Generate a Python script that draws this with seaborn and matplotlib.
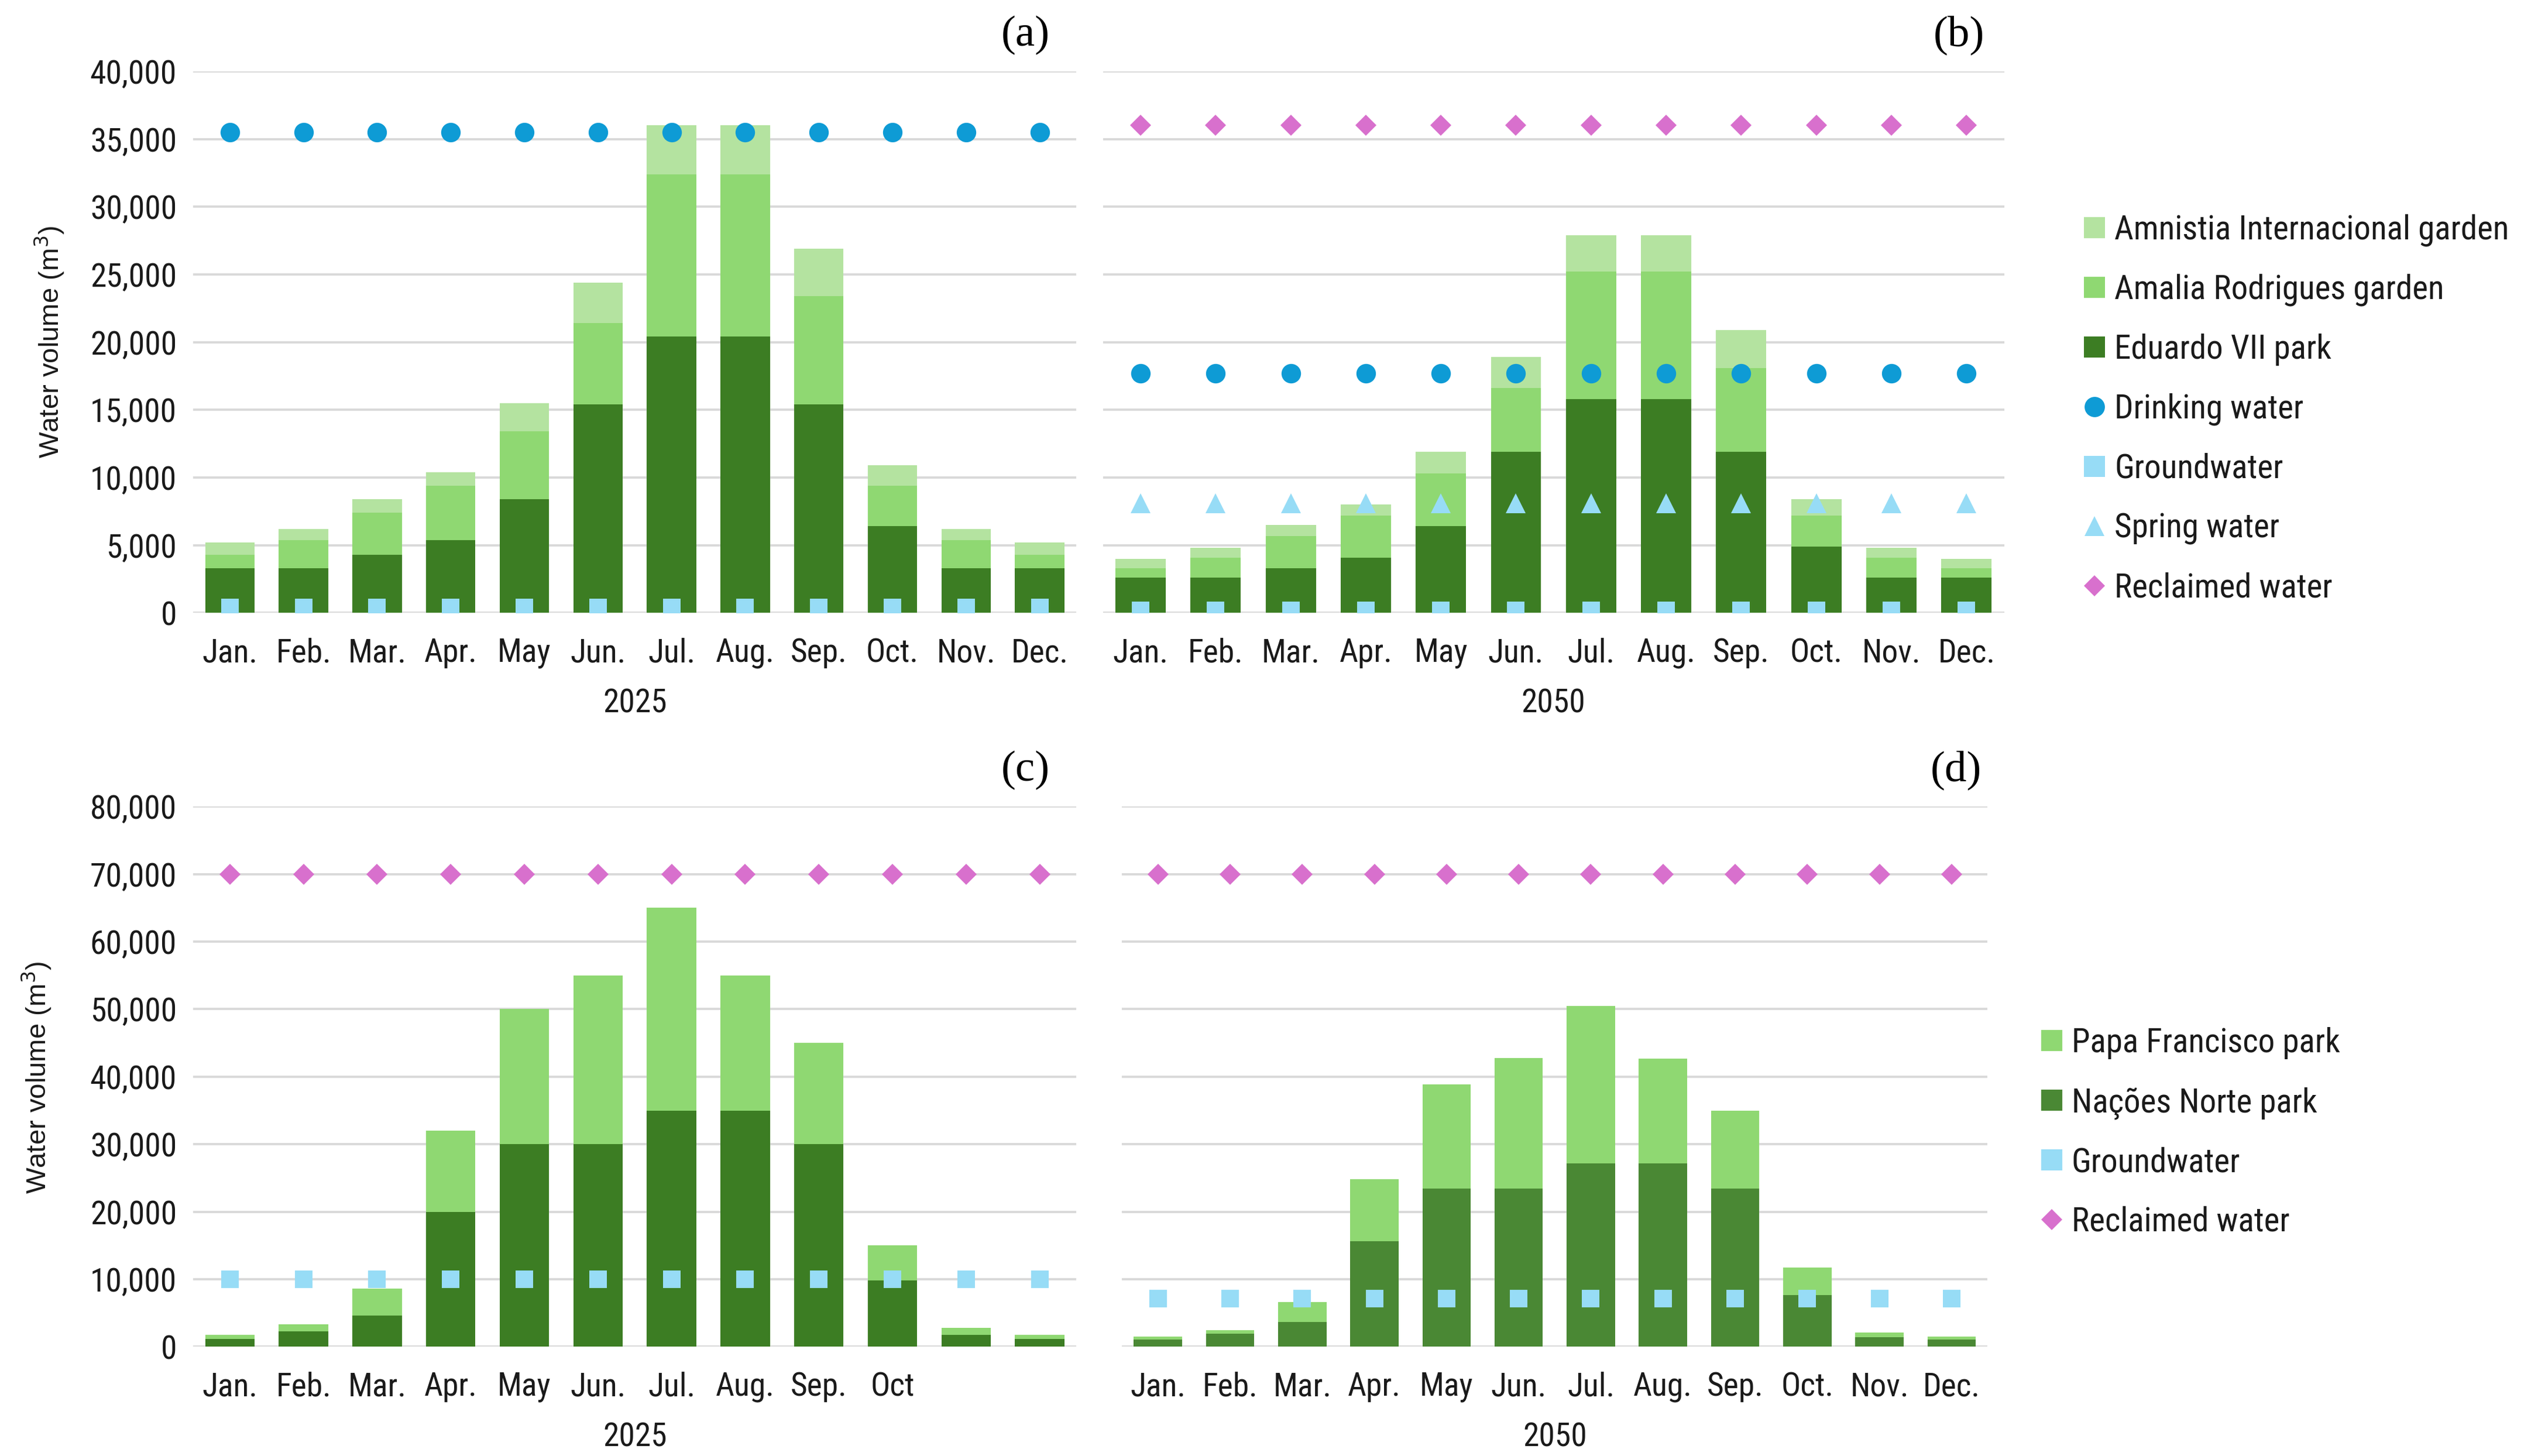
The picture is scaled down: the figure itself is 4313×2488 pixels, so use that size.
import numpy as np
import pandas as pd
import matplotlib
matplotlib.use('Agg')
import matplotlib.pyplot as plt
import seaborn as sns
from matplotlib.lines import Line2D

sns.set_theme(style='white')
plt.rcParams['font.family'] = ['Roboto Condensed', 'Roboto', 'DejaVu Sans']

# data
months = ['Jan.', 'Feb.', 'Mar.', 'Apr.', 'May', 'Jun.', 'Jul.', 'Aug.', 'Sep.', 'Oct.', 'Nov.', 'Dec.']
months_c = ['Jan.', 'Feb.', 'Mar.', 'Apr.', 'May', 'Jun.', 'Jul.', 'Aug.', 'Sep.', 'Oct', '', '']

# (a) 2025 - Eduardo VII / Amalia Rodrigues / Amnistia Internacional
eduardo_2025 = [3300, 3300, 4300, 5400, 8400, 15400, 20400, 20400, 15400, 6400, 3300, 3300]
amalia_2025 = [1000, 2100, 3100, 4000, 5000, 6000, 12000, 12000, 8000, 3000, 2100, 1000]
amnistia_2025 = [900, 800, 1000, 1000, 2100, 3000, 3600, 3600, 3500, 1500, 800, 900]
drinking_2025 = [35500] * 12
ground_2025 = [400] * 12

# (b) 2050
eduardo_2050 = [2600, 2600, 3300, 4100, 6400, 11900, 15800, 15800, 11900, 4900, 2600, 2600]
amalia_2050 = [700, 1500, 2400, 3100, 3900, 4700, 9400, 9400, 6200, 2300, 1500, 700]
amnistia_2050 = [700, 700, 800, 800, 1600, 2300, 2700, 2700, 2800, 1200, 700, 700]
drinking_2050 = [17700] * 12
ground_2050 = [200] * 12
spring_2050 = [8100] * 12
reclaimed_2050 = [36000] * 12

# (c) 2025 - Nacoes Norte / Papa Francisco
nacoes_2025 = [1200, 2300, 4600, 20000, 30000, 30000, 35000, 35000, 30000, 9800, 1800, 1200]
papa_2025 = [600, 1000, 4000, 12000, 20000, 25000, 30000, 20000, 15000, 5200, 1000, 600]
ground_c = [10000] * 12
reclaimed_c = [70000] * 12

# (d) 2050
nacoes_2050 = [1100, 1900, 3700, 15600, 23400, 23400, 27200, 27200, 23400, 7700, 1400, 1100]
papa_2050 = [400, 600, 2900, 9200, 15500, 19400, 23300, 15500, 11600, 4000, 700, 400]
ground_d = [7100] * 12
reclaimed_d = [70000] * 12

# colours
c_amnistia = '#b4e3a0'
c_amalia = '#8fd872'
c_dark = '#3c7d23'
c_dark_d = '#4a8834'
c_drink = '#0e9bd5'
c_ground = '#97dcf6'
c_spring = '#97dcf6'
c_recl = '#d870cd'
grid_c = '#d9d9d9'
txt_c = '#1a1a1a'

fig = plt.figure(figsize=(43.13, 24.88), dpi=100)
ax_a = fig.add_axes([0.0765, 0.579, 0.350, 0.372])
ax_b = fig.add_axes([0.437, 0.579, 0.357, 0.372])
ax_c = fig.add_axes([0.0765, 0.075, 0.350, 0.371])
ax_d = fig.add_axes([0.4445, 0.075, 0.343, 0.371])

tick_fs = 40
bar_w = 0.67


def stacked(ax, layers, colors):
    # draw cumulative totals from top layer down so lower layers sit on top
    cum = np.cumsum(np.array(layers), axis=0)
    for i in range(len(layers) - 1, -1, -1):
        df = pd.DataFrame({'month': months, 'val': cum[i]})
        sns.barplot(data=df, x='month', y='val', color=colors[i], width=bar_w,
                    saturation=1, ax=ax, zorder=2, linewidth=0)


def points(ax, vals, marker, color, size):
    df = pd.DataFrame({'month': months, 'val': vals})
    sns.pointplot(data=df, x='month', y='val', linestyle='none', marker=marker,
                  color=color, markersize=size, markeredgewidth=0, ax=ax,
                  errorbar=None)
    for coll in ax.collections:
        coll.set_zorder(4)
    for ln in ax.lines:
        ln.set_zorder(4)


def style(ax, ymax, step, show_y, labels):
    ax.set_ylim(0, ymax)
    ax.set_xlim(-0.5, 11.5)
    ax.set_yticks(np.arange(0, ymax + 1, step))
    if show_y:
        ax.set_yticklabels([f'{int(v):,}' for v in np.arange(0, ymax + 1, step)])
    else:
        ax.set_yticklabels([])
    ax.set_xticks(range(12))
    ax.set_xticklabels(labels)
    ax.tick_params(axis='x', length=0, labelsize=tick_fs, colors=txt_c, pad=30)
    ax.tick_params(axis='y', length=0, labelsize=tick_fs, colors=txt_c, pad=20)
    ax.grid(axis='y', color=grid_c, linewidth=2.8, zorder=0)
    ax.set_axisbelow(True)
    for s in ax.spines.values():
        s.set_visible(False)
    ax.set_ylabel('')


# (a)
stacked(ax_a, [eduardo_2025, amalia_2025, amnistia_2025], [c_dark, c_amalia, c_amnistia])
points(ax_a, drinking_2025, 'o', c_drink, 24)
points(ax_a, ground_2025, 's', c_ground, 21)
style(ax_a, 40000, 5000, True, months)
ax_a.set_xlabel('2025', fontsize=tick_fs, labelpad=24, color=txt_c)

# (b)
stacked(ax_b, [eduardo_2050, amalia_2050, amnistia_2050], [c_dark, c_amalia, c_amnistia])
points(ax_b, reclaimed_2050, 'D', c_recl, 18)
points(ax_b, drinking_2050, 'o', c_drink, 24)
points(ax_b, spring_2050, '^', c_spring, 24)
points(ax_b, ground_2050, 's', c_ground, 21)
style(ax_b, 40000, 5000, False, months)
ax_b.set_xlabel('2050', fontsize=tick_fs, labelpad=24, color=txt_c)

# (c)
stacked(ax_c, [nacoes_2025, papa_2025], [c_dark, c_amalia])
points(ax_c, reclaimed_c, 'D', c_recl, 18)
points(ax_c, ground_c, 's', c_ground, 21)
style(ax_c, 80000, 10000, True, months_c)
ax_c.set_xlabel('2025', fontsize=tick_fs, labelpad=24, color=txt_c)

# (d)
stacked(ax_d, [nacoes_2050, papa_2050], [c_dark_d, c_amalia])
points(ax_d, reclaimed_d, 'D', c_recl, 18)
points(ax_d, ground_d, 's', c_ground, 21)
style(ax_d, 80000, 10000, False, months)
ax_d.set_xlabel('2050', fontsize=tick_fs, labelpad=24, color=txt_c)

# panel letters
for ax, lab, xr in [(ax_a, '(a)', 0.97), (ax_b, '(b)', 0.978), (ax_c, '(c)', 0.97), (ax_d, '(d)', 0.993)]:
    ax.text(xr, 1.03, lab, transform=ax.transAxes, ha='right', va='bottom',
            fontsize=54, family='Liberation Serif', color='black')

# y labels
for x, y in [(0.0195, 0.765), (0.0145, 0.26)]:
    fig.text(x, y, 'Water volume (m$^3$)', rotation=90, ha='center', va='center',
             fontsize=34, family='Liberation Sans', color=txt_c)

# legends
sq = dict(marker='s', linestyle='none', markersize=26, markeredgewidth=0)
h_top = [
    Line2D([], [], color=c_amnistia, label='Amnistia Internacional garden', **sq),
    Line2D([], [], color=c_amalia, label='Amalia Rodrigues garden', **sq),
    Line2D([], [], color=c_dark, label='Eduardo VII park', **sq),
    Line2D([], [], marker='o', linestyle='none', color=c_drink, markersize=25,
           markeredgewidth=0, label='Drinking water'),
    Line2D([], [], color=c_ground, label='Groundwater', **sq),
    Line2D([], [], marker='^', linestyle='none', color=c_spring, markersize=24,
           markeredgewidth=0, label='Spring water'),
    Line2D([], [], marker='D', linestyle='none', color=c_recl, markersize=18,
           markeredgewidth=0, label='Reclaimed water'),
]
fig.legend(handles=h_top, loc='center left', bbox_to_anchor=(0.814, 0.719), frameon=False,
           fontsize=41, handlelength=0.6, handletextpad=0.3, labelspacing=0.82,
           labelcolor=txt_c)

h_bot = [
    Line2D([], [], color=c_amalia, label='Papa Francisco park', **sq),
    Line2D([], [], color=c_dark_d, label='Nações Norte park', **sq),
    Line2D([], [], color=c_ground, label='Groundwater', **sq),
    Line2D([], [], marker='D', linestyle='none', color=c_recl, markersize=18,
           markeredgewidth=0, label='Reclaimed water'),
]
fig.legend(handles=h_bot, loc='center left', bbox_to_anchor=(0.797, 0.222), frameon=False,
           fontsize=41, handlelength=0.6, handletextpad=0.3, labelspacing=0.82,
           labelcolor=txt_c)

fig.savefig('out.png', dpi=100, facecolor='white')
